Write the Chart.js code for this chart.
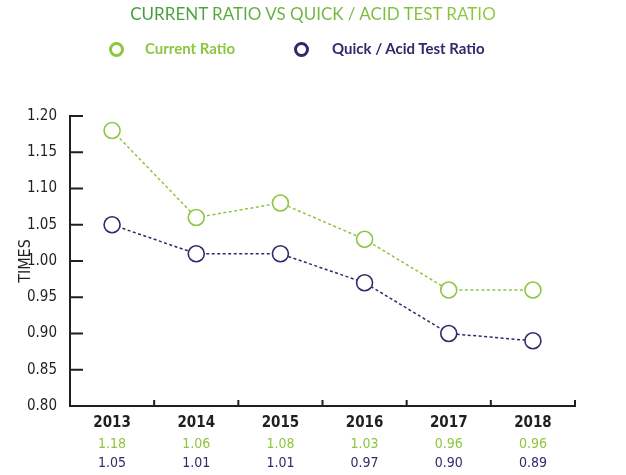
<!DOCTYPE html>
<html>
<head>
<meta charset="utf-8">
<script src="https://cdn.jsdelivr.net/npm/chart.js@4"></script>
<style>
  html, body { margin: 0; padding: 0; background: #fff; }
  #wrap { position: relative; width: 626px; height: 475px; }
  #chart, #ticks { position: absolute; left: 0; top: 0; }
  #ticks { pointer-events: none; z-index: 2; }
  .title {
    position: absolute; left: 0; top: 3px; width: 626px; text-align: center;
    font: 17px Lato, sans-serif; line-height: 22px; z-index: 3;
  }
  .title span {
    display: inline-block; white-space: nowrap;
    background: linear-gradient(90deg, #3a9a3a 0%, #6db33f 45%, #93c83e 100%);
    -webkit-background-clip: text; background-clip: text; color: transparent;
  }
  .legend { position: absolute; top: 39px; left: 0; width: 626px; font: bold 15px Lato, sans-serif; z-index: 3; }
  .legend span { position: absolute; white-space: nowrap; }
  .legend i {
    position: absolute; width: 9px; height: 9px; border-radius: 50%;
    border: 3px solid currentColor; top: 3px;
  }
</style>
</head>
<body>
<div id="wrap">
  <canvas id="chart" width="626" height="475"></canvas>
  <canvas id="ticks" width="626" height="475"></canvas>
  <div class="title"><span>CURRENT RATIO VS QUICK / ACID TEST RATIO</span></div>
  <div class="legend" id="legend"></div>
</div>
<script>
const years = ["2013", "2014", "2015", "2016", "2017", "2018"];
const currentRatio = [1.18, 1.06, 1.08, 1.03, 0.96, 0.96];
const quickRatio = [1.05, 1.01, 1.01, 0.97, 0.90, 0.89];
const yTicks = { min: 0.80, max: 1.20, step: 0.05 };

const GREEN = "#8dc63f";
const PURPLE = "#2e2a6b";
const AXIS = "#231f20";
const NARROW = "'Liberation Sans Narrow', 'DejaVu Sans Condensed', sans-serif";

// legend drawn as html above the canvas
const legendItems = [
    { text: "Current Ratio", color: GREEN, dot: 109, label: 145 },
    { text: "Quick / Acid Test Ratio", color: PURPLE, dot: 294, label: 332 },
];
const legendEl = document.getElementById("legend");
legendItems.forEach((item) => {
    legendEl.insertAdjacentHTML(
        "beforeend",
        `<i style="left:${item.dot}px;color:${item.color}"></i>` +
        `<span style="left:${item.label}px;color:${item.color}">${item.text}</span>`
    );
});

const fmt = (v) => v.toFixed(2);

// short tick marks that point into the plot (y) and up from the base line (x),
// painted on a second canvas laid over the chart, using the chart's own scales
const tickCanvas = document.getElementById("ticks");
const innerTicks = {
    id: "innerTicks",
    afterDraw(chart) {
        const ctx = tickCanvas.getContext("2d");
        const area = chart.chartArea;
        const xs = chart.scales.x;
        const ys = chart.scales.y;
        ctx.clearRect(0, 0, tickCanvas.width, tickCanvas.height);
        ctx.strokeStyle = AXIS;
        ctx.lineWidth = 2;
        ctx.beginPath();
        for (let v = yTicks.min; v <= yTicks.max + 1e-9; v += yTicks.step) {
            const y = ys.getPixelForValue(v);
            ctx.moveTo(area.left, y);
            ctx.lineTo(area.left + 13, y);
        }
        for (let i = 0; i <= years.length; i++) {
            const x = xs.getPixelForValue(i - 0.5);
            ctx.moveTo(x, area.bottom);
            ctx.lineTo(x, area.bottom - 6);
        }
        ctx.stroke();
    },
};

const lineStyle = (color) => ({
    borderColor: color,
    backgroundColor: "#fff",
    borderWidth: 1.5,
    borderDash: [3, 2.5],
    pointRadius: 8,
    pointHoverRadius: 8,
    pointBorderWidth: 1.6,
    pointBackgroundColor: "#fff",
    tension: 0,
});

// value rows under the years: plain label rows with fixed heights
const valueAxis = (labels, color, weight, padding, height) => ({
    type: "category",
    position: "bottom",
    weight: weight,
    offset: true,
    labels: labels,
    grid: { display: false, drawTicks: false, tickLength: 0 },
    border: { display: false },
    ticks: {
        color: color,
        padding: padding,
        maxRotation: 0,
        autoSkip: false,
        font: { family: NARROW, size: 14 },
    },
    afterFit: (scale) => { scale.height = height; },
});

new Chart(document.getElementById("chart"), {
    type: "line",
    data: {
        labels: years,
        datasets: [
            { label: "Current Ratio", data: currentRatio, ...lineStyle(GREEN) },
            { label: "Quick / Acid Test Ratio", data: quickRatio, ...lineStyle(PURPLE) },
        ],
    },
    options: {
        responsive: false,
        animation: false,
        events: [],
        layout: { padding: { top: 116, right: 51, left: 0, bottom: 0 } },
        plugins: {
            legend: { display: false },
            tooltip: { enabled: false },
        },
        scales: {
            x: {
                type: "category",
                position: "bottom",
                weight: 0,
                offset: true,
                grid: { offset: true, drawOnChartArea: false, drawTicks: false, tickLength: 0 },
                border: { color: AXIS, width: 2 },
                ticks: {
                    color: AXIS,
                    padding: 8,
                    maxRotation: 0,
                    autoSkip: false,
                    font: { family: NARROW, size: 15, weight: "bold" },
                },
                afterFit: (scale) => { scale.height = 26; },
            },
            xCurrent: valueAxis(currentRatio.map(fmt), GREEN, 1, 4, 21),
            xQuick: valueAxis(quickRatio.map(fmt), PURPLE, 2, 2, 22),
            y: {
                min: yTicks.min,
                max: yTicks.max,
                grid: { drawOnChartArea: false, drawTicks: false, tickLength: 0 },
                border: { color: AXIS, width: 2 },
                ticks: {
                    stepSize: yTicks.step,
                    color: AXIS,
                    padding: 13,
                    font: { family: NARROW, size: 15 },
                    callback: (v) => Number(v).toFixed(2),
                },
                title: {
                    display: true,
                    text: "TIMES",
                    color: AXIS,
                    padding: { top: 16, bottom: 0 },
                    font: { family: NARROW, size: 16 },
                },
                afterFit: (scale) => { scale.width = 70; },
            },
        },
    },
    plugins: [innerTicks],
});
</script>
</body>
</html>
